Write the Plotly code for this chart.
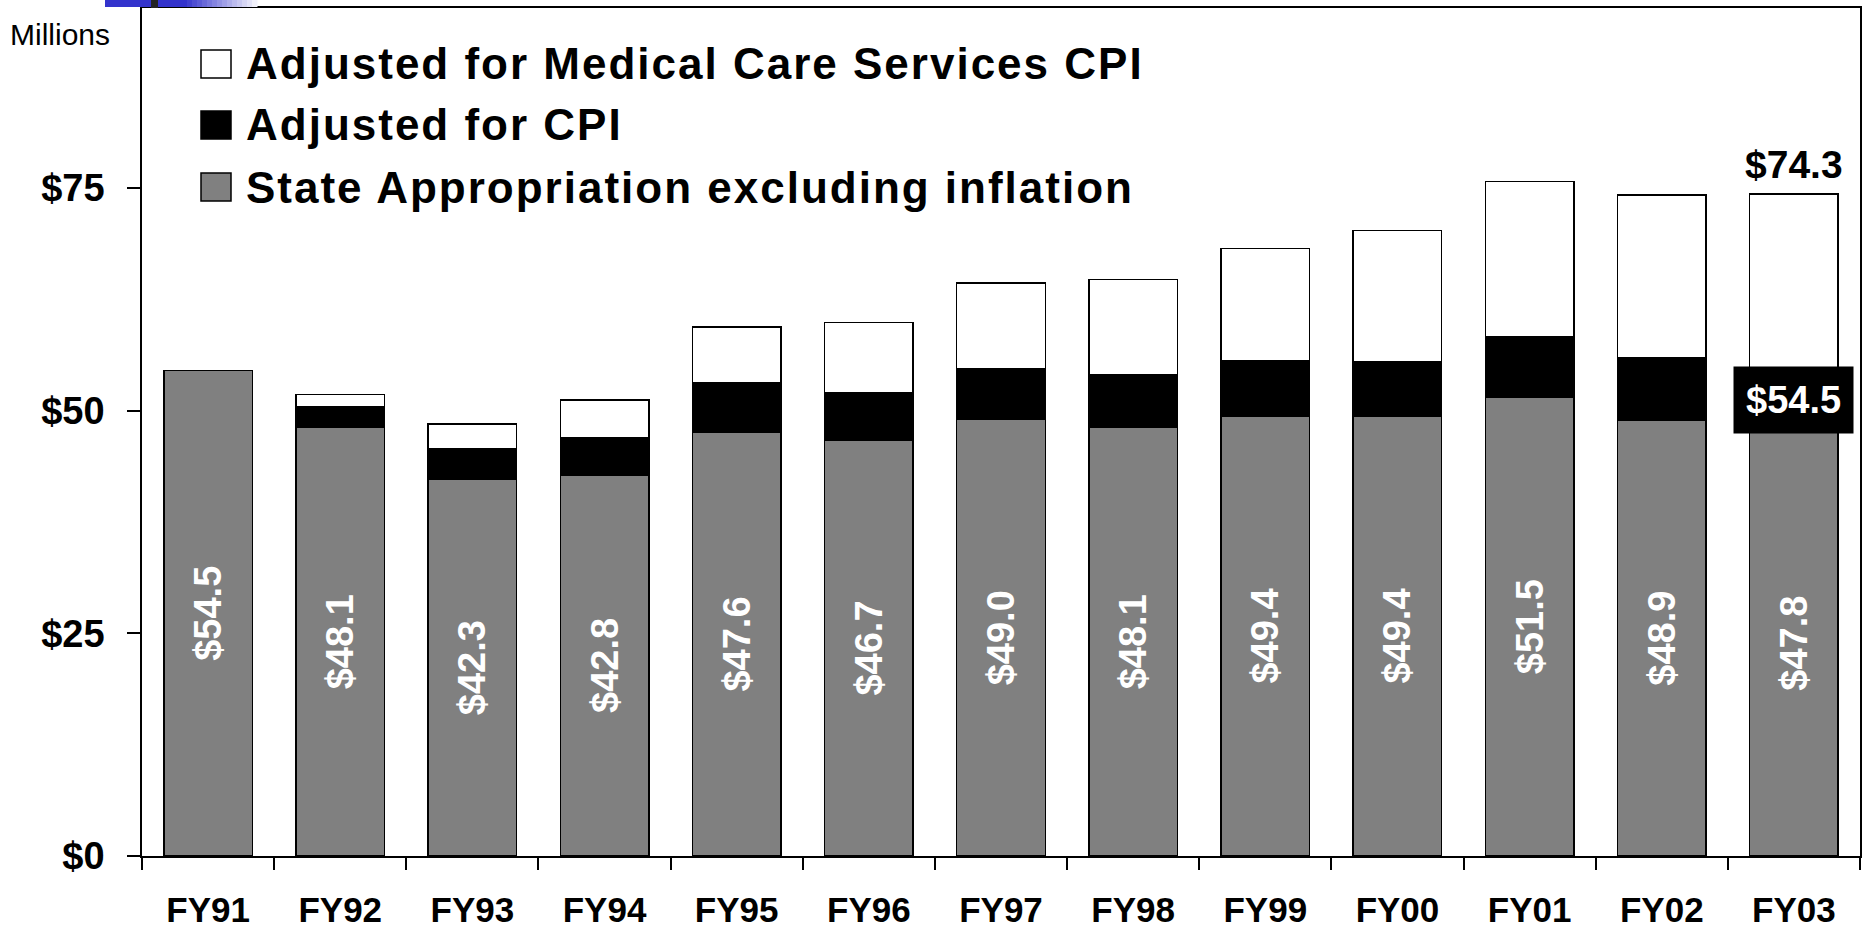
import plotly.graph_objects as go

years = ["FY91", "FY92", "FY93", "FY94", "FY95", "FY96", "FY97",
         "FY98", "FY99", "FY00", "FY01", "FY02", "FY03"]
# state appropriation excluding inflation ($ millions)
base = [54.5, 48.1, 42.3, 42.8, 47.6, 46.7, 49.0, 48.1, 49.4, 49.4, 51.5, 48.9, 47.8]
# adjusted for CPI (totals)
cpi = [54.5, 50.4, 45.7, 47.0, 53.1, 52.0, 54.7, 54.0, 55.6, 55.5, 58.3, 55.9, 54.5]
# adjusted for medical care services CPI (totals)
med = [54.5, 51.8, 48.5, 51.2, 59.4, 59.9, 64.3, 64.7, 68.2, 70.2, 75.7, 74.2, 74.3]

legend_names = ["Adjusted for Medical Care Services CPI",
                "Adjusted for CPI",
                "State Appropriation excluding inflation"]
yticks = [0, 25, 50, 75]
ytick_labels = ["$0", "$25", "$50", "$75"]

cpi_part = [c - b for c, b in zip(cpi, base)]
med_part = [m - c for m, c in zip(med, cpi)]

W, H = 1866, 929
L, R, T, B = 142, 6, 8, 73
PW, PH = W - L - R, H - T - B


def px(x):
    return (x - L) / PW


def py(y):
    return (H - B - y) / PH


FONT = "Liberation Sans, Arial, sans-serif"
outline = dict(color="black", width=1.5)

fig = go.Figure()
fig.add_trace(go.Bar(
    x=years, y=base, name=legend_names[2],
    marker=dict(color="#808080", line=outline),
    text=[f"${v:.1f}" for v in base], textposition="inside",
    insidetextanchor="middle", textangle=-90, constraintext="none",
    textfont=dict(family=FONT, size=38, color="white", weight="bold"),
))
fig.add_trace(go.Bar(x=years, y=cpi_part, name=legend_names[1],
                     marker=dict(color="black", line=outline)))
fig.add_trace(go.Bar(x=years, y=med_part, name=legend_names[0],
                     marker=dict(color="white", line=outline)))

fig.update_layout(
    width=W, height=H,
    barmode="stack", bargap=0.33,
    showlegend=False,
    paper_bgcolor="white", plot_bgcolor="white",
    margin=dict(l=L, r=R, t=T, b=B, pad=0),
    font=dict(family=FONT, size=38, color="black"),
    xaxis=dict(showline=True, linecolor="black", linewidth=1.5, mirror=True,
               automargin=False, ticks="outside", tickson="boundaries",
               ticklen=12, tickcolor="black", tickwidth=1.5,
               ticklabelstandoff=22, tickfont=dict(size=35, weight="bold")),
    yaxis=dict(range=[0, 95.2], showline=True, linecolor="black",
               linewidth=1.5, mirror=True, showgrid=False, zeroline=False,
               automargin=False, tickvals=yticks, ticktext=ytick_labels,
               ticks="outside", ticklen=13, tickcolor="black", tickwidth=1.5,
               ticklabelstandoff=15, tickfont=dict(size=38, weight="bold")),
)

# legend drawn by hand so the swatches match the original size
swatch_fill = ["white", "black", "#808080"]
rows = [64, 125, 187]
for name, fill, yc in zip(legend_names, swatch_fill, rows):
    fig.add_shape(type="rect", xref="paper", yref="paper",
                  x0=px(201), x1=px(231), y0=py(yc + 14), y1=py(yc - 14),
                  fillcolor=fill, line=dict(color="black", width=1.5))
    fig.add_annotation(xref="paper", yref="paper", x=px(244), y=py(yc),
                       xanchor="left", yanchor="middle", showarrow=False,
                       text=f"<span style='letter-spacing:2px'>{name}</span>",
                       font=dict(size=44, weight="bold"))

fig.add_annotation(xref="paper", yref="paper", x=px(8), y=py(35),
                   xanchor="left", yanchor="middle", showarrow=False,
                   text="Millions", font=dict(size=30))

# totals for FY03
fig.add_annotation(x=years[-1], y=med[-1], yanchor="bottom", yshift=6,
                   showarrow=False, text=f"${med[-1]:.1f}",
                   font=dict(size=39, weight="bold"))
fig.add_annotation(x=years[-1], y=(base[-1] + cpi[-1]) / 2, showarrow=False,
                   text=f"${cpi[-1]:.1f}", bgcolor="black", borderpad=12,
                   font=dict(size=38, weight="bold", color="white"))

# slide decoration at the top left
fig.add_shape(type="rect", xref="paper", yref="paper",
              x0=px(105), x1=px(187), y0=py(7), y1=py(0),
              fillcolor="#3333cc", line_width=0)
steps = 14
for i in range(steps):
    t = (i + 1) / (steps + 1)
    r = int(0x33 + (255 - 0x33) * t)
    col = f"rgb({r},{r},{int(0xcc + (255 - 0xcc) * t)})"
    x0 = 187 + i * (257 - 187) / steps
    fig.add_shape(type="rect", xref="paper", yref="paper",
                  x0=px(x0), x1=px(x0 + (257 - 187) / steps + 0.5),
                  y0=py(7), y1=py(0), fillcolor=col, line_width=0)
fig.add_shape(type="rect", xref="paper", yref="paper",
              x0=px(151), x1=px(158), y0=py(8), y1=py(0),
              fillcolor="#222222", line_width=0)

fig.write_html("out.html", config={"displayModeBar": False},
               post_script="document.body.style.margin = '0';")
